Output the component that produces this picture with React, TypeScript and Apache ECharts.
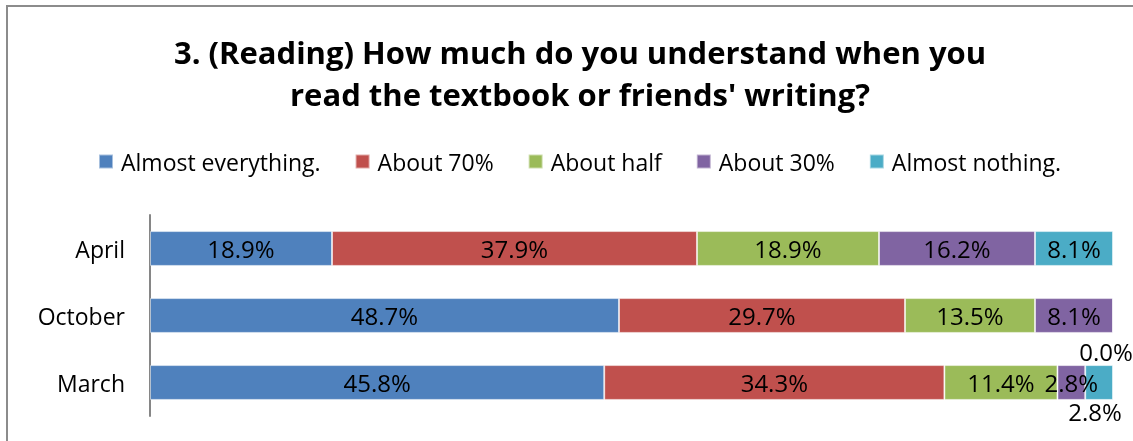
import React, { useEffect, useRef } from "react";
import * as echarts from "echarts";

const categories = ["March", "October", "April"];
const seriesNames = ["Almost everything.", "About 70%", "About half", "About 30%", "Almost nothing."];
const colors = ["#4F81BD", "#C0504D", "#9BBB59", "#8064A2", "#4BACC6"];
// values per series, in category order [March, October, April]
const almostEverything = [45.8, 48.7, 18.9];
const about70 = [34.3, 29.7, 37.9];
const aboutHalf = [11.4, 13.5, 18.9];
const about30 = [2.8, 8.1, 16.2];
const almostNothing = [2.8, 0.0, 8.1];

const FONT = "'Open Sans', sans-serif";

export default function App() {
  const ref = useRef<HTMLDivElement>(null);
  useEffect(() => {
    const chart = echarts.init(ref.current!, null, { renderer: "svg" });
    const all = [almostEverything, about70, aboutHalf, about30, almostNothing];
    const totals = categories.map((_, i) => all.reduce((s, a) => s + a[i], 0));
    const series = all.map((arr, si) => ({
      name: seriesNames[si],
      type: "bar",
      stack: "total",
      barCategoryGap: "48%",
      itemStyle: { color: colors[si], borderColor: "rgba(255,255,255,0.5)", borderWidth: 1 },
      label: {
        show: true,
        position: "inside",
        color: "#000",
        fontSize: 24,
        fontFamily: FONT,
        formatter: (p: any) => arr[p.dataIndex].toFixed(1) + "%",
      },
      data: arr.map((v, i) => {
        const item: any = { value: (v / totals[i]) * 100 };
        if (si === 4 && i === 1) item.label = { offset: [-7, 36] };
        if (si === 4 && i === 0) item.label = { offset: [-4, 29] };
        return item;
      }),
    }));
    chart.setOption({
      animation: false,
      title: {
        text: "3. (Reading) How much do you understand when you\nread the textbook or friends' writing?",
        left: 575,
        top: 26,
        textAlign: "center",
        textStyle: { fontSize: 31, fontWeight: "bold", fontFamily: FONT, color: "#000", lineHeight: 42 },
      },
      legend: {
        left: 93,
        top: 145,
        itemWidth: 14,
        itemHeight: 14,
        itemGap: 34,
        icon: "rect",
        textStyle: { fontSize: 23, fontFamily: FONT, color: "#000", padding: [0, 0, 0, 3] },
        data: seriesNames,
      },
      grid: { left: 150, right: 20, top: 215, bottom: 25 },
      xAxis: { type: "value", min: 0, max: 100, show: false },
      yAxis: {
        type: "category",
        data: categories,
        axisLine: { show: true, lineStyle: { color: "#868686", width: 2 } },
        axisTick: { show: false },
        axisLabel: { fontSize: 23, fontFamily: FONT, color: "#000", margin: 25 },
      },
      graphic: [
        {
          type: "rect",
          shape: { x: 7, y: 6, width: 1140, height: 460 },
          style: { fill: "none", stroke: "#8c8c8c", lineWidth: 2 },
          silent: true,
        },
      ],
      series,
    });
    return () => chart.dispose();
  }, []);
  return <div ref={ref} style={{ position: "fixed", left: 0, top: 0, width: 1133, height: 441 }} />;
}
